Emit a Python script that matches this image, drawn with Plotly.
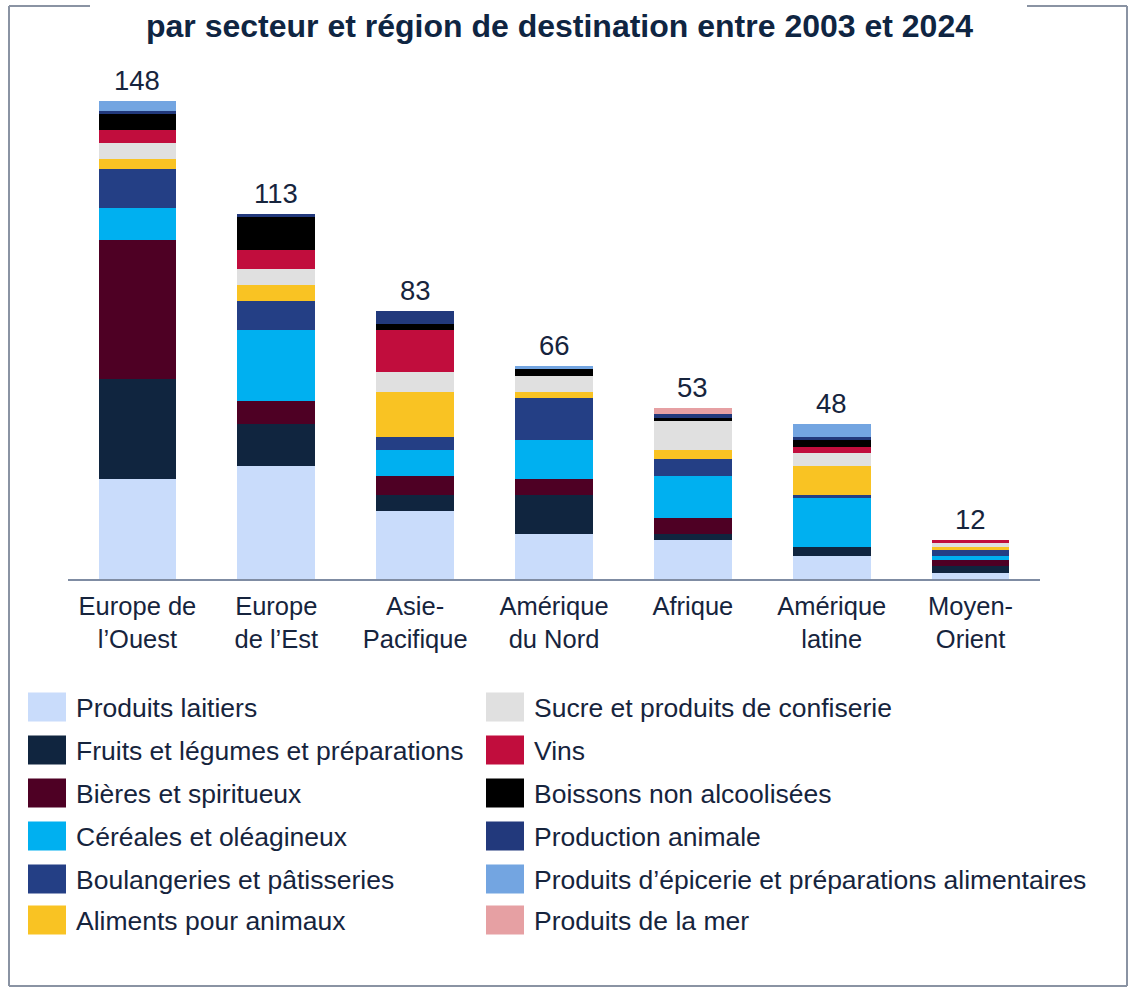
import plotly.graph_objects as go

# Regions of destination (x-axis categories)
regions = [
    "Europe de<br>l’Ouest",
    "Europe<br>de l’Est",
    "Asie-<br>Pacifique",
    "Amérique<br>du Nord",
    "Afrique",
    "Amérique<br>latine",
    "Moyen-<br>Orient",
]

# Number of projects per sector, one value per region (stacked bottom to top)
produits_laitiers = [31, 35, 21, 14, 12, 7, 2]
fruits_legumes = [31, 13, 5, 12, 2, 3, 2]
bieres_spiritueux = [43, 7, 6, 5, 5, 0, 2]
cereales_oleagineux = [10, 22, 8, 12, 13, 15, 1]
boulangeries = [12, 9, 4, 13, 5, 1, 2]
aliments_animaux = [3, 5, 14, 2, 3, 9, 1]
sucre_confiserie = [5, 5, 6, 5, 9, 4, 1]
vins = [4, 6, 13, 0, 0, 2, 1]
boissons_non_alcoolisees = [5, 10, 2, 2, 1, 2, 0]
production_animale = [1, 1, 4, 0, 1, 1, 0]
epicerie = [3, 0, 0, 1, 0, 4, 0]
produits_mer = [0, 0, 0, 0, 2, 0, 0]

sector_names = [
    "Produits laitiers",
    "Fruits et légumes et préparations",
    "Bières et spiritueux",
    "Céréales et oléagineux",
    "Boulangeries et pâtisseries",
    "Aliments pour animaux",
    "Sucre et produits de confiserie",
    "Vins",
    "Boissons non alcoolisées",
    "Production animale",
    "Produits d’épicerie et préparations alimentaires",
    "Produits de la mer",
]
sector_values = [
    produits_laitiers, fruits_legumes, bieres_spiritueux, cereales_oleagineux,
    boulangeries, aliments_animaux, sucre_confiserie, vins,
    boissons_non_alcoolisees, production_animale, epicerie, produits_mer,
]
sector_colors = [
    "#C9DCFB", "#10253F", "#4E0024", "#00B0F0", "#243F85", "#F9C323",
    "#E0E0E0", "#C10D3D", "#000000", "#22397C", "#73A5E1", "#E6A0A3",
]

TEXT = "#16243D"
FONT = "Liberation Sans, Arial, sans-serif"

W, H = 1128, 987
ML, MR, MT, MB = 68, 88, 70, 408
PW, PH = W - ML - MR, H - MT - MB
PX_PER_UNIT = 3.23


def px(x):
    return (x - ML) / PW


def py(y):
    return (H - MB - y) / PH


fig = go.Figure()
for name, vals, col in zip(sector_names, sector_values, sector_colors):
    fig.add_trace(go.Bar(
        x=regions, y=vals, name=name,
        marker=dict(color=col, line=dict(width=0)),
        showlegend=False,
    ))

totals = [sum(v[i] for v in sector_values) for i in range(len(regions))]
annotations = []
for reg, tot in zip(regions, totals):
    annotations.append(dict(
        x=reg, y=tot, xref="x", yref="y", text=str(tot), showarrow=False,
        yanchor="bottom", yshift=3, font=dict(size=27.5, color=TEXT, family=FONT),
    ))

# Title (second line of the heading)
annotations.append(dict(
    x=px(559), y=py(26), xref="paper", yref="paper",
    text="<b>par secteur et région de destination entre 2003 et 2024</b>",
    showarrow=False, xanchor="center", yanchor="middle",
    font=dict(size=32, color="#0F2542", family=FONT),
))

shapes = []
# Frame around the chart, open at the top behind the heading
frame = dict(type="line", xref="paper", yref="paper",
             line=dict(color="#8A93A3", width=2))
shapes.append({**frame, "x0": px(9), "x1": px(9), "y0": py(6), "y1": py(986)})
shapes.append({**frame, "x0": px(1127), "x1": px(1127), "y0": py(6), "y1": py(986)})
shapes.append({**frame, "x0": px(9), "x1": px(1127), "y0": py(986), "y1": py(986)})
shapes.append({**frame, "x0": px(9), "x1": px(90), "y0": py(6), "y1": py(6)})
shapes.append({**frame, "x0": px(1027), "x1": px(1127), "y0": py(6), "y1": py(6)})

# Legend in two columns
col_x = [28, 486]
row_y = [707, 750, 793, 836, 879, 920]
for i, (name, col) in enumerate(zip(sector_names, sector_colors)):
    c, r = divmod(i, 6)
    x0, yc = col_x[c], row_y[r]
    shapes.append(dict(
        type="rect", xref="paper", yref="paper",
        x0=px(x0), x1=px(x0 + 38), y0=py(yc - 14.5), y1=py(yc + 14.5),
        fillcolor=col, line=dict(width=0),
    ))
    annotations.append(dict(
        x=px(x0 + 46), y=py(yc + 1), xref="paper", yref="paper", text=name,
        showarrow=False, xanchor="left", yanchor="middle",
        font=dict(size=26.5, color=TEXT, family=FONT),
    ))

fig.update_layout(
    width=W, height=H,
    margin=dict(l=ML, r=MR, t=MT, b=MB),
    barmode="stack", bargap=0.44,
    plot_bgcolor="white", paper_bgcolor="white",
    font=dict(family=FONT, color=TEXT),
    xaxis=dict(
        showline=True, linecolor="#7F8CA3", linewidth=2,
        showgrid=False, ticks="", tickfont=dict(size=25.5, color=TEXT),
        ticklabelstandoff=3,
    ),
    yaxis=dict(
        range=[0, PH / PX_PER_UNIT], visible=False, showgrid=False,
    ),
    annotations=annotations,
    shapes=shapes,
)

fig.write_html("out.html")
